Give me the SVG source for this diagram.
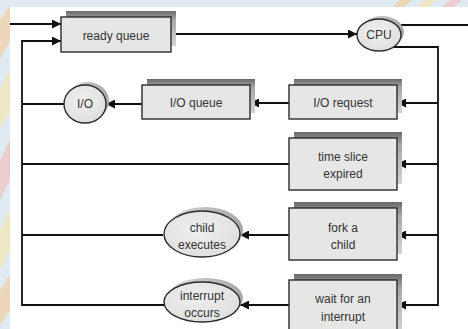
<svg xmlns="http://www.w3.org/2000/svg" width="468" height="329" viewBox="0 0 468 329">
  <defs>
    <style>
      .box { fill: #e6e6e6; stroke: #2b2b2b; stroke-width: 1.4; }
      .oval { fill: url(#ovalFill); stroke: #2b2b2b; stroke-width: 1.4; }
      .shadow { fill: url(#shadeBox); }
      .oshadow { fill: url(#shadeOval); }
      .wire { fill: none; stroke: #111; stroke-width: 1.8; }
      .lbl { font-family: "Liberation Sans", Arial, sans-serif; font-size: 12px; fill: #333; text-anchor: middle; }
    </style>
    <linearGradient id="shadeBox" x1="0" y1="0" x2="0" y2="1">
      <stop offset="0" stop-color="#6a6a6a"/>
      <stop offset="0.25" stop-color="#a8a8a8"/>
      <stop offset="1" stop-color="#d4d4d4"/>
    </linearGradient>
    <linearGradient id="shadeOval" x1="0" y1="0" x2="1" y2="0">
      <stop offset="0" stop-color="#d8d8d8"/>
      <stop offset="1" stop-color="#a8a8a8"/>
    </linearGradient>
    <radialGradient id="ovalFill" cx="0.45" cy="0.4" r="0.7">
      <stop offset="0" stop-color="#f0f0f0"/>
      <stop offset="1" stop-color="#dcdcdc"/>
    </radialGradient>
    <marker id="arr" viewBox="0 0 10 10" refX="10" refY="5" markerWidth="5" markerHeight="5" orient="auto" markerUnits="strokeWidth">
      <path d="M0,0 L10,5 L0,10 z" fill="#111"/>
    </marker>
  </defs>

  <!-- page backdrop -->
  <rect x="0" y="0" width="468" height="329" fill="#dfeaf2"/>
  <g opacity="0.55">
    <path d="M0,20 L10,5 L10,40 L0,60 z" fill="#f7c98e"/>
    <path d="M0,90 L10,70 L10,110 L0,130 z" fill="#fde7a0"/>
    <path d="M0,160 L10,140 L10,180 L0,200 z" fill="#f5b8b0"/>
    <path d="M0,230 L10,210 L10,250 L0,270 z" fill="#fde7a0"/>
    <path d="M0,290 L10,275 L10,310 L0,325 z" fill="#f7c98e"/>
    <path d="M400,0 L412,0 L404,7 L392,7 z" fill="#f7c98e"/>
    <path d="M425,0 L437,0 L429,7 L417,7 z" fill="#fde7a0"/>
    <path d="M450,0 L462,0 L454,7 L442,7 z" fill="#f5b8b0"/>
  </g>
  <rect x="10" y="7" width="458" height="322" fill="#ffffff"/>

  <!-- connectors -->
  <g id="connectors">
    <line class="wire" x1="10" y1="24" x2="61" y2="24" marker-end="url(#arr)"/>
    <polyline class="wire" points="164,305 22,305 22,41 61,41" marker-end="url(#arr)"/>
    <line class="wire" x1="171" y1="34" x2="357" y2="34" marker-end="url(#arr)"/>
    <line class="wire" x1="400" y1="25" x2="468" y2="25"/>
    <polyline class="wire" points="394,47 438,47 438,305 397,305" marker-end="url(#arr)"/>
    <line class="wire" x1="438" y1="103" x2="397" y2="103" marker-end="url(#arr)"/>
    <line class="wire" x1="438" y1="164" x2="397" y2="164" marker-end="url(#arr)"/>
    <line class="wire" x1="438" y1="235" x2="397" y2="235" marker-end="url(#arr)"/>
    <line class="wire" x1="289" y1="103" x2="250" y2="103" marker-end="url(#arr)"/>
    <line class="wire" x1="142" y1="104" x2="106" y2="104" marker-end="url(#arr)"/>
    <line class="wire" x1="64" y1="104" x2="22" y2="104"/>
    <line class="wire" x1="289" y1="164" x2="22" y2="164"/>
    <line class="wire" x1="289" y1="235" x2="240" y2="235" marker-end="url(#arr)"/>
    <line class="wire" x1="163" y1="235" x2="22" y2="235"/>
    <line class="wire" x1="289" y1="305" x2="240" y2="305" marker-end="url(#arr)"/>
  </g>

  <!-- queues and events -->
  <g id="ready-queue">
    <rect class="shadow" x="66" y="11" width="110" height="35"/>
    <rect class="box" x="61" y="17" width="110" height="35"/>
    <text class="lbl" x="116" y="40">ready queue</text>
  </g>

  <g id="cpu">
    <ellipse class="oshadow" cx="382" cy="32" rx="22" ry="16"/>
    <ellipse class="oval" cx="379" cy="35" rx="22" ry="16"/>
    <text class="lbl" x="379" y="39">CPU</text>
  </g>

  <g id="io-request">
    <rect class="shadow" x="294" y="79" width="108" height="34"/>
    <rect class="box" x="289" y="85" width="108" height="34"/>
    <text class="lbl" x="343" y="107">I/O request</text>
  </g>

  <g id="io-queue">
    <rect class="shadow" x="147" y="79" width="108" height="34"/>
    <rect class="box" x="142" y="85" width="108" height="34"/>
    <text class="lbl" x="196" y="107">I/O queue</text>
  </g>

  <g id="io">
    <ellipse class="oshadow" cx="88" cy="101" rx="21" ry="19"/>
    <ellipse class="oval" cx="85" cy="104" rx="21" ry="19"/>
    <text class="lbl" x="85" y="108">I/O</text>
  </g>

  <g id="time-slice-expired">
    <rect class="shadow" x="294" y="132" width="108" height="52"/>
    <rect class="box" x="289" y="138" width="108" height="52"/>
    <text class="lbl" x="343" y="161">time slice</text>
    <text class="lbl" x="343" y="178">expired</text>
  </g>

  <g id="fork-a-child">
    <rect class="shadow" x="294" y="202" width="108" height="52"/>
    <rect class="box" x="289" y="208" width="108" height="52"/>
    <text class="lbl" x="343" y="232">fork a</text>
    <text class="lbl" x="343" y="249">child</text>
  </g>

  <g id="child-executes">
    <ellipse class="oshadow" cx="205" cy="230" rx="38" ry="23"/>
    <ellipse class="oval" cx="202" cy="234" rx="38" ry="23"/>
    <text class="lbl" x="202" y="232">child</text>
    <text class="lbl" x="202" y="249">executes</text>
  </g>

  <g id="wait-for-interrupt">
    <rect class="shadow" x="294" y="274" width="108" height="58"/>
    <rect class="box" x="289" y="280" width="108" height="52"/>
    <text class="lbl" x="343" y="303">wait for an</text>
    <text class="lbl" x="343" y="321">interrupt</text>
  </g>

  <g id="interrupt-occurs">
    <ellipse class="oshadow" cx="205" cy="298" rx="38" ry="20"/>
    <ellipse class="oval" cx="202" cy="302" rx="38" ry="20"/>
    <text class="lbl" x="202" y="300">interrupt</text>
    <text class="lbl" x="202" y="317">occurs</text>
  </g>
</svg>
